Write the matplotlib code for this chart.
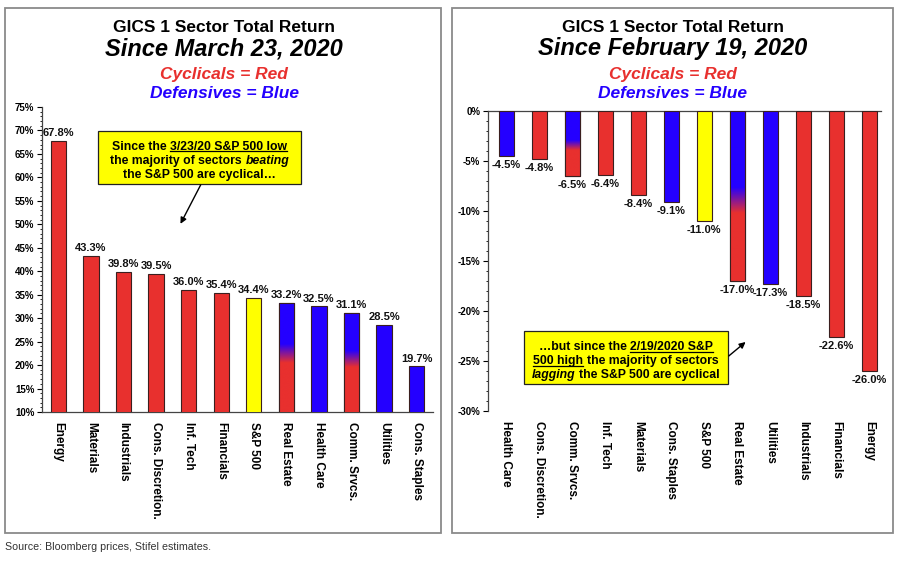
#!/usr/bin/env python3

import numpy as np
import matplotlib.pyplot as plt
from matplotlib.patches import Rectangle
from matplotlib.lines import Line2D
from matplotlib.colors import to_rgb

plt.rcParams['font.family'] = ['Liberation Sans', 'DejaVu Sans']

# ---- data -----------------------------------------------------------------
left_sectors = ['Energy', 'Materials', 'Industrials', 'Cons. Discretion.', 'Inf. Tech',
                'Financials', 'S&P 500', 'Real Estate', 'Health Care', 'Comm. Srvcs.',
                'Utilities', 'Cons. Staples']
left_values = [67.8, 43.3, 39.8, 39.5, 36.0, 35.4, 34.4, 33.2, 32.5, 31.1, 28.5, 19.7]
left_kinds = ['C', 'C', 'C', 'C', 'C', 'C', 'S', 'M', 'D', 'M', 'D', 'D']
left_blend = {7: (20.5, 24.5), 9: (19.5, 23.0)}   # red -> blue transition band

right_sectors = ['Health Care', 'Cons. Discretion.', 'Comm. Srvcs.', 'Inf. Tech', 'Materials',
                 'Cons. Staples', 'S&P 500', 'Real Estate', 'Utilities', 'Industrials',
                 'Financials', 'Energy']
right_values = [-4.5, -4.8, -6.5, -6.4, -8.4, -9.1, -11.0, -17.0, -17.3, -18.5, -22.6, -26.0]
right_kinds = ['D', 'C', 'M', 'C', 'C', 'D', 'S', 'M', 'D', 'C', 'C', 'C']
right_blend = {2: (-3.9, -2.9), 7: (-10.2, -7.6)}

RED = '#E8302E'
BLUE = '#2400FF'
YELLOW = '#FFFF00'
EDGE = '#3a1f1f'
kind_color = {'C': RED, 'D': BLUE, 'S': YELLOW, 'M': RED}


def draw_bars(ax, values, kinds, blends, width):
    x = np.arange(len(values))
    bars = ax.bar(x, values, width, color=[kind_color[k] for k in kinds],
                  edgecolor=EDGE, linewidth=0.8, zorder=3)
    # mixed sectors: blue on top, red at the bottom, blended through a band
    for i, (lo, hi) in blends.items():
        b = bars[i]
        y0, y1 = sorted([0 if values[i] < 0 else ax.get_ylim()[0], values[i]])
        ys = np.linspace(y0, y1, 300)
        t = np.clip((ys - lo) / (hi - lo), 0, 1)[:, None]
        img = (1 - t) * np.array(to_rgb(RED)) + t * np.array(to_rgb(BLUE))
        im = ax.imshow(img[:, None, :], extent=[b.get_x(), b.get_x() + width, y0, y1],
                       origin='lower', aspect='auto', zorder=3.5, interpolation='bilinear')
        im.set_clip_path(b)
        ax.bar(x[i], values[i], width, color='none', edgecolor=EDGE, linewidth=0.8, zorder=4)
    return bars


def rich_line(fig, renderer, xc, y, segments, size):
    # segments: (text, style) with style in 'n', 'i', 'u'; joined by single spaces
    texts = []
    for s, st in segments:
        t = fig.text(0, y, s, transform=None, fontsize=size, fontweight='bold',
                     fontstyle='italic' if st == 'i' else 'normal', va='baseline', zorder=10)
        texts.append((t, st))
    probe = fig.text(0, 0, 'a a', fontsize=size, fontweight='bold')
    probe2 = fig.text(0, 0, 'aa', fontsize=size, fontweight='bold')
    space = probe.get_window_extent(renderer).width - probe2.get_window_extent(renderer).width
    probe.remove()
    probe2.remove()
    widths = [t.get_window_extent(renderer).width for t, _ in texts]
    total = sum(widths) + space * (len(texts) - 1)
    x = xc - total / 2
    for (t, st), w in zip(texts, widths):
        t.set_x(x)
        if st == 'u':
            fig.add_artist(Line2D([x, x + w], [y - 1.6, y - 1.6], transform=None,
                                  color='black', linewidth=0.9, zorder=10))
        x += w + space


fig = plt.figure(figsize=(9, 5.72), dpi=100)
renderer = fig.canvas.get_renderer()

# panel frames
for x0, x1 in [(5, 441), (452, 893)]:
    fig.add_artist(Rectangle((x0 / 900, 1 - 533 / 572), (x1 - x0) / 900, (533 - 8) / 572,
                             transform=fig.transFigure, fill=False, edgecolor='#8a8a8a',
                             linewidth=1.3))

# ---- left panel -----------------------------------------------------------
axL = fig.add_axes([42 / 900, 1 - 412 / 572, (433 - 42) / 900, (412 - 107) / 572])
axL.set_ylim(10, 75)
axL.set_xlim(-0.5, len(left_values) - 0.5)
draw_bars(axL, left_values, left_kinds, left_blend, 0.47)
for i, v in enumerate(left_values):
    axL.annotate('{:.1f}%'.format(v), (i, v), xytext=(0, 2), textcoords='offset points',
                 ha='center', va='bottom', fontsize=8, fontweight='bold', color='#111111')
axL.set_yticks(np.arange(10, 76, 5))
axL.set_yticklabels(['{}%'.format(v) for v in range(10, 76, 5)])
axL.set_yticks(np.arange(10, 76, 1), minor=True)
for s in ['top', 'right']:
    axL.spines[s].set_visible(False)

# ---- right panel ----------------------------------------------------------
axR = fig.add_axes([488 / 900, 1 - 411 / 572, (881 - 488) / 900, (411 - 111) / 572])
axR.set_ylim(-30, 0)
axR.set_xlim(-0.55, len(right_values) - 0.65)
draw_bars(axR, right_values, right_kinds, right_blend, 0.46)
for i, v in enumerate(right_values):
    axR.annotate('{:.1f}%'.format(v), (i, v), xytext=(0, -3), textcoords='offset points',
                 ha='center', va='top', fontsize=8, fontweight='bold', color='#111111')
axR.set_yticks(np.arange(-30, 1, 5))
axR.set_yticklabels(['{}%'.format(v) for v in range(-30, 1, 5)])
axR.set_yticks(np.arange(-30, 1, 1), minor=True)
for s in ['bottom', 'right']:
    axR.spines[s].set_visible(False)

for ax, names in [(axL, left_sectors), (axR, right_sectors)]:
    ax.set_xticks(np.arange(len(names)))
    ax.set_xticklabels(names, rotation=270, fontsize=8.5, fontweight='bold', va='top')
    ax.tick_params(axis='x', length=0, pad=7)
    ax.tick_params(axis='y', which='major', length=3.5, width=0.8, labelsize=7, pad=2)
    ax.tick_params(axis='y', which='minor', length=1.8, width=0.6)
    for lab in ax.get_yticklabels():
        lab.set_fontweight('bold')
    for s in ['left', 'bottom', 'top']:
        ax.spines[s].set_linewidth(0.9)
        ax.spines[s].set_color('#444444')
    ax.set_facecolor('none')

# ---- titles ---------------------------------------------------------------
for xc, date in [(224 / 900, 'Since March 23, 2020'), (673 / 900, 'Since February 19, 2020')]:
    fig.text(xc, 1 - 27 / 572, 'GICS 1 Sector Total Return', ha='center', va='center',
             fontsize=12.5, fontweight='bold')
    fig.text(xc, 1 - 49 / 572, date, ha='center', va='center', fontsize=17,
             fontweight='bold', fontstyle='italic')
    fig.text(xc, 1 - 74 / 572, 'Cyclicals = Red', ha='center', va='center', fontsize=12.5,
             fontweight='bold', fontstyle='italic', color=RED)
    fig.text(xc, 1 - 93 / 572, 'Defensives = Blue', ha='center', va='center', fontsize=12.5,
             fontweight='bold', fontstyle='italic', color=BLUE)

fig.text(5 / 900, 1 - 547 / 572, 'Source: Bloomberg prices, Stifel estimates.', ha='left',
         va='center', fontsize=7.7, color='#333333')

# ---- annotation boxes -----------------------------------------------------
notes = [
    (axL, (1.23, 58.6, 7.45, 69.9), (4.37, 58.4), (3.75, 50.1), [
        [('Since the', 'n'), ('3/23/20 S&P 500 low', 'u')],
        [('the majority of sectors', 'n'), ('beating', 'i')],
        [('the S&P 500 are cyclical\u2026', 'n')],
    ]),
    (axR, (0.54, -27.3, 6.71, -22.0), (6.74, -24.5), (7.25, -23.1), [
        [('\u2026but since the', 'n'), ('2/19/2020 S&P', 'u')],
        [('500 high', 'u'), ('the majority of sectors', 'n')],
        [('lagging', 'i'), ('the S&P 500 are cyclical', 'n')],
    ]),
]
for ax, (bx0, by0, bx1, by1), start, head, lines in notes:
    ax.add_patch(Rectangle((bx0, by0), bx1 - bx0, by1 - by0, facecolor=YELLOW,
                           edgecolor='#222222', linewidth=0.9, zorder=6, clip_on=False))
    ax.annotate('', xy=head, xytext=start,
                arrowprops=dict(arrowstyle='-|>', color='black', lw=1.0,
                                mutation_scale=9, shrinkA=0, shrinkB=0), zorder=6)
    px0, py0 = ax.transData.transform((bx0, by0))
    px1, py1 = ax.transData.transform((bx1, by1))
    xc = (px0 + px1) / 2
    hgt = py1 - py0
    for k, segs in enumerate(lines):
        y = py1 - hgt * (0.3 + 0.265 * k) - 3
        rich_line(fig, renderer, xc, y, segs, 8.8)

fig.savefig('out.png', dpi=100)
